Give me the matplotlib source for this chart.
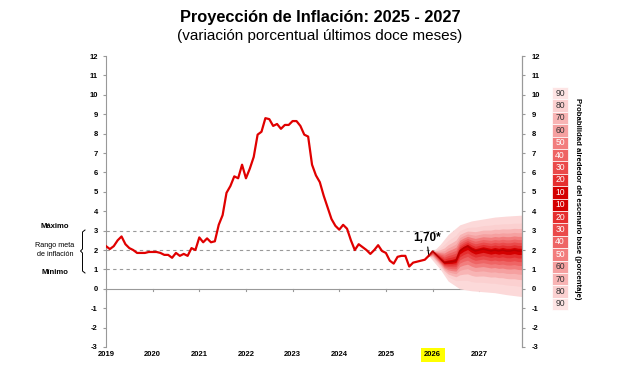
import numpy as np
import matplotlib.pyplot as plt
from matplotlib.patches import Rectangle
from matplotlib.lines import Line2D

plt.rcParams['font.family'] = ['Liberation Sans', 'DejaVu Sans']
plt.rcParams['axes.unicode_minus'] = False

# monthly inflation, Jan 2019 .. Dec 2025
hist = [2.2, 2.05, 2.2, 2.5, 2.7, 2.3, 2.1, 2.0, 1.85, 1.85, 1.85, 1.9,
        1.9, 1.9, 1.85, 1.75, 1.75, 1.6, 1.85, 1.7, 1.8, 1.7, 2.1, 2.0,
        2.65, 2.4, 2.6, 2.4, 2.45, 3.3, 3.8, 4.95, 5.3, 5.8, 5.7, 6.4,
        5.7, 6.2, 6.8, 7.95, 8.1, 8.8, 8.75, 8.4, 8.5, 8.25, 8.45, 8.45,
        8.65, 8.65, 8.4, 7.95, 7.85, 6.4, 5.85, 5.5, 4.8, 4.2, 3.6, 3.25,
        3.05, 3.3, 3.1, 2.5, 2.0, 2.3, 2.15, 2.0, 1.8, 2.0, 2.25, 1.95,
        1.85, 1.45, 1.3, 1.65, 1.7, 1.7, 1.15, 1.35, 1.4, 1.45, 1.5, 1.7]

# central projection, Dec 2025 .. Dec 2027
proj = [1.7, 1.95, 1.75, 1.55, 1.35, 1.38, 1.4, 1.45, 1.95, 2.1, 2.2, 2.05,
        1.95, 2.0, 2.05, 2.0, 1.95, 2.0, 1.95, 2.0, 1.95, 1.95, 2.0, 1.95, 1.95]

# outer (90%) band edges at some months
band_months = [83, 86, 88, 91, 94, 97, 100, 103, 107]
upper90 = [1.7, 2.3, 2.8, 3.3, 3.5, 3.6, 3.7, 3.75, 3.8]
lower90 = [1.7, 1.0, 0.4, 0.0, -0.1, -0.15, -0.2, -0.3, -0.4]

levels = [90, 80, 70, 60, 50, 40, 30, 20, 10]
level_frac = [1.0, 0.779, 0.63, 0.512, 0.41, 0.319, 0.234, 0.154, 0.077]
level_colors = ['#fde4e4', '#fbd0d0', '#f8b4b4', '#f5a0a0', '#f27d7d',
                '#ee6464', '#ea4a4a', '#e52f2f', '#d40000']

years = ['2019', '2020', '2021', '2022', '2023', '2024', '2025', '2026', '2027']
legend_rows = [90, 80, 70, 60, 50, 40, 30, 20, 10, 10, 20, 30, 40, 50, 60, 70, 80, 90]

fig = plt.figure(figsize=(6.4, 3.74), dpi=100)
ax = fig.add_axes([0.1656, 0.0722, 0.65, 0.7778])

hx = np.arange(len(hist))
px = np.arange(83, 83 + len(proj))
pc = np.array(proj)
up = np.clip(np.interp(px, band_months, upper90) - pc, 0, None)
lo = np.clip(pc - np.interp(px, band_months, lower90), 0, None)

for f, c in zip(level_frac, level_colors):
    if c == '#fde4e4':
        c = '#fcd9d9'
    ax.fill_between(px, pc - f * lo, pc + f * up, color=c, lw=0, zorder=2)

for yv in [1, 2, 3]:
    ax.axhline(yv, color='#999999', ls=(0, (3, 3)), lw=0.8, zorder=1)
ax.axhline(0, color='#999999', lw=0.8, zorder=1)
for i in range(len(years)):
    ax.plot([12 * i, 12 * i], [0, -0.12], color='#999999', lw=0.8, zorder=1, clip_on=False)

ax.plot(hx, hist, color='#e00000', lw=1.6, zorder=4)
ax.plot(px, proj, color='#b80000', lw=1.1, zorder=4)

ax.annotate('1,70*', xy=(83, 1.75), xytext=(82.5, 2.3), ha='center', va='bottom',
            fontsize=8.5, fontweight='bold',
            arrowprops=dict(arrowstyle='-', color='black', lw=0.8, shrinkA=0, shrinkB=0))

ax.set_xlim(0, 107)
ax.set_ylim(-3, 12)
ax.set_yticks(range(-3, 13))
ax.tick_params(axis='y', labelsize=5.5, length=2, color='#999999', pad=4)
for t in ax.get_yticklabels():
    t.set_fontweight('bold')
ax.set_xticks([12 * i for i in range(len(years))])
ax.set_xticklabels(years, fontsize=5.5, fontweight='bold')
ax.tick_params(axis='x', length=0, pad=3)
for t in ax.get_xticklabels():
    if t.get_text() == '2026':
        t.set_bbox(dict(facecolor='#ffff00', edgecolor='none', pad=2.5))
for s in ['top', 'bottom']:
    ax.spines[s].set_visible(False)
for s in ['left', 'right']:
    ax.spines[s].set_color('#999999')
    ax.spines[s].set_linewidth(0.8)

ax2 = ax.twinx()
ax2.set_ylim(-3, 12)
ax2.set_yticks(range(-3, 13))
ax2.tick_params(axis='y', labelsize=5.5, length=2, color='#999999', pad=5)
for t in ax2.get_yticklabels():
    t.set_fontweight('bold')
for s in ['top', 'bottom', 'left']:
    ax2.spines[s].set_visible(False)
ax2.spines['right'].set_color('#999999')
ax2.spines['right'].set_linewidth(0.8)

fig.text(0.5, 0.953, 'Proyección de Inflación: 2025 - 2027', ha='center', va='center',
         fontsize=11.8, fontweight='bold')
fig.text(0.5, 0.905, '(variación porcentual últimos doce meses)', ha='center', va='center',
         fontsize=11)

# target range notes on the left
W, H = 640, 374
fig.text(55 / W, 1 - 227 / H, 'Máximo', ha='center', va='center', fontsize=5.5, fontweight='bold')
fig.text(55 / W, 1 - 250 / H, 'Rango meta\nde inflación', ha='center', va='center',
         fontsize=5.2, linespacing=1.3)
fig.text(55 / W, 1 - 272 / H, 'Mínimo', ha='center', va='center', fontsize=5.5, fontweight='bold')
bx = [85, 82.5, 82.5, 80.5, 82.5, 82.5, 85]
by = [230, 232, 249, 251, 253, 271, 273]
fig.add_artist(Line2D([v / W for v in bx], [1 - v / H for v in by], color='black', lw=0.7))

# probability legend
row_h = 12.4
top = 87
for i, lv in enumerate(legend_rows):
    c = level_colors[levels.index(lv)]
    y0 = top + i * row_h
    fig.add_artist(Rectangle((552 / W, 1 - (y0 + row_h) / H), 16 / W, row_h / H,
                             facecolor=c, edgecolor='white', lw=0.5))
    fig.text(560 / W, 1 - (y0 + row_h / 2) / H, str(lv), ha='center', va='center',
             fontsize=6.2, color='#333333' if lv >= 60 else 'white')
fig.text(578 / W, 1 - 199 / H, 'Probabilidad alrededor del escenario base (porcentaje)',
         rotation=270, ha='center', va='center', fontsize=5.6, fontweight='bold')

fig.savefig('out.png', dpi=100)
